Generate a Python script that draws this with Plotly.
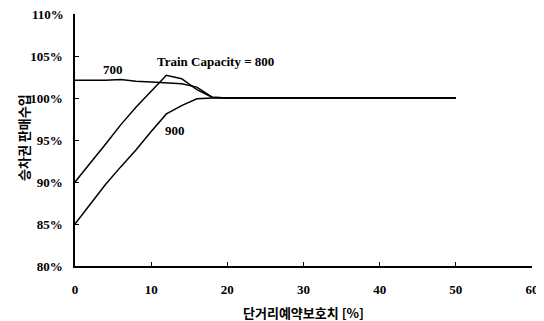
import plotly.graph_objects as go

x_vals = [0, 2, 4, 6, 8, 10, 12, 14, 16, 18, 20, 30, 40, 50]
cap_700 = [102.1, 102.1, 102.1, 102.2, 102.0, 101.9, 101.8, 101.7, 101.3, 100.1, 100.0, 100.0, 100.0, 100.0]
cap_800 = [90.0, 92.2, 94.5, 96.8, 98.9, 100.8, 102.7, 102.3, 101.0, 100.1, 100.0, 100.0, 100.0, 100.0]
cap_900 = [85.0, 87.4, 89.7, 91.8, 93.8, 96.0, 98.1, 99.1, 99.9, 100.0, 100.0, 100.0, 100.0, 100.0]

y_ticks = [80, 85, 90, 95, 100, 105, 110]
y_tick_labels = ["80%", "85%", "90%", "95%", "100%", "105%", "110%"]
x_ticks = [0, 10, 20, 30, 40, 50, 60]

x_title = "단거리예약보호치 [%]"
y_title = "승차권 판매수입"

serif = "Liberation Serif, Times New Roman, serif"
kr = "Noto Sans CJK KR"
fs = 13

fig = go.Figure()
for ys in (cap_700, cap_800, cap_900):
    fig.add_trace(go.Scatter(x=x_vals, y=ys, mode="lines",
                             line=dict(color="black", width=1.5),
                             showlegend=False, hoverinfo="skip"))

# the page body has an 8px margin, so the figure is 8px smaller and margins shifted
fig.update_layout(
    template="none",
    width=536, height=313,
    margin=dict(l=67, r=12, t=6, b=55),
    paper_bgcolor="white", plot_bgcolor="white",
    font=dict(family=serif, size=fs, color="black"),
)
fig.update_xaxes(
    range=[0, 60], tickvals=x_ticks, ticktext=[f"<b>{v}</b>" for v in x_ticks],
    showgrid=False, zeroline=False, showline=True, linecolor="black", linewidth=1.5,
    ticks="inside", ticklen=4, tickcolor="black", tickwidth=1, automargin=False,
    ticklabelstandoff=11, tickfont=dict(family=serif, size=fs),
)
# the top tick label would be hidden by plotly (it overflows the div), so draw it as an annotation
fig.update_yaxes(
    range=[80, 110], tickvals=y_ticks,
    ticktext=[f"<b>{t}</b>" for t in y_tick_labels[:-1]] + [""],
    showgrid=False, zeroline=False, showline=True, linecolor="black", linewidth=1.5,
    ticks="inside", ticklen=4, tickcolor="black", tickwidth=1, automargin=False,
    ticklabelstandoff=8, tickfont=dict(family=serif, size=fs),
)
fig.add_annotation(x=0, y=y_ticks[-1], xref="paper", yref="y", xanchor="right", yanchor="middle",
                   xshift=-9, text=f"<b>{y_tick_labels[-1]}</b>", showarrow=False,
                   font=dict(family=serif, size=fs, color="black"))

annos = [
    dict(x=5, y=103.4, text="<b>700</b>"),
    dict(x=18.4, y=104.3, text="<b>Train Capacity = 800</b>"),
    dict(x=13.1, y=96.1, text="<b>900</b>"),
]
for a in annos:
    fig.add_annotation(x=a["x"], y=a["y"], text=a["text"], showarrow=False,
                       xref="x", yref="y", font=dict(family=serif, size=fs, color="black"))

fig.add_annotation(x=30, y=0, xref="x", yref="paper", yanchor="middle", yshift=-46,
                   text=f"<b>{x_title}</b>", showarrow=False,
                   font=dict(family=kr, size=13, color="black"))
fig.add_annotation(x=0, y=0.508, xref="paper", yref="paper", xanchor="center", xshift=-51,
                   text=f"<b>{y_title}</b>", showarrow=False, textangle=-90,
                   font=dict(family=kr, size=13, color="black"))

fig.write_html("out.html")
